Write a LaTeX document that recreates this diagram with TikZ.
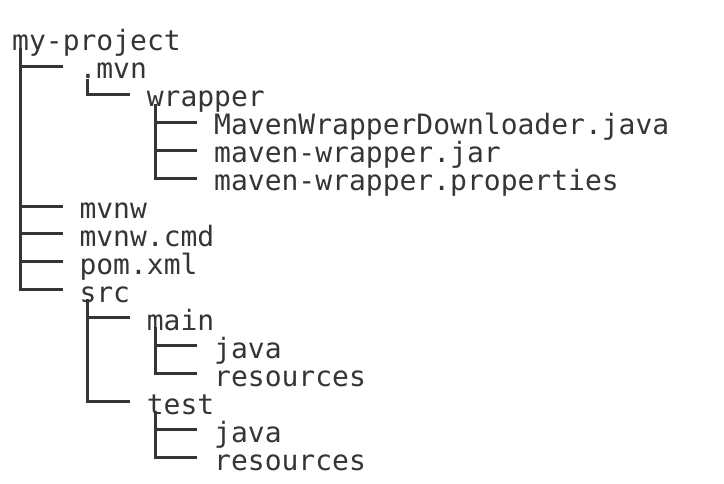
\documentclass[tikz,border=0pt]{standalone}
\usepackage{fontspec}
\usepackage{xcolor}
\usepackage{tikz}
\newfontfamily\monotree{DejaVu Sans Mono}
\definecolor{treegray}{HTML}{353535}
\tikzset{
  entry/.style={anchor=base west, inner xsep=0pt, inner ysep=0pt, text height=25pt, text depth=0pt, font=\monotree\fontsize{28}{28}\selectfont, text=treegray},
  treeedge/.style={draw=treegray, line width=3pt, shorten >=16.8pt}
}

\begin{document}
\begin{tikzpicture}[x=1pt,y=1pt]
\useasboundingbox (0,0) rectangle (724,-484);
% tree entries
\node[entry] (root) at (12,-51) {my-project};
\node[entry] (mvn) at (79.3,-78.9) {.mvn};
\node[entry] (wrapper) at (146.6,-106.9) {wrapper};
\node[entry] (downloader) at (214,-134.8) {MavenWrapperDownloader.java};
\node[entry] (jar) at (214,-162.7) {maven-wrapper.jar};
\node[entry] (props) at (214,-190.7) {maven-wrapper.properties};
\node[entry] (mvnw) at (79.3,-218.6) {mvnw};
\node[entry] (mvnwcmd) at (79.3,-246.5) {mvnw.cmd};
\node[entry] (pom) at (79.3,-274.4) {pom.xml};
\node[entry] (src) at (79.3,-302.4) {src};
\node[entry] (main) at (146.6,-330.3) {main};
\node[entry] (mainjava) at (214,-358.2) {java};
\node[entry] (mainres) at (214,-386.2) {resources};
\node[entry] (test) at (146.6,-414.1) {test};
\node[entry] (testjava) at (214,-442) {java};
\node[entry] (testres) at (214,-470) {resources};
% branches
\draw[treeedge] ([xshift=8.4pt,yshift=3pt]root.base west) |- (mvn.west);
\draw[treeedge] ([xshift=8.4pt,yshift=3pt]root.base west) |- (mvnw.west);
\draw[treeedge] ([xshift=8.4pt,yshift=3pt]root.base west) |- (mvnwcmd.west);
\draw[treeedge] ([xshift=8.4pt,yshift=3pt]root.base west) |- (pom.west);
\draw[treeedge] ([xshift=8.4pt,yshift=3pt]root.base west) |- (src.west);
\draw[treeedge] ([xshift=8.4pt,yshift=0pt]mvn.base west) |- (wrapper.west);
\draw[treeedge] ([xshift=8.4pt,yshift=3pt]wrapper.base west) |- (downloader.west);
\draw[treeedge] ([xshift=8.4pt,yshift=3pt]wrapper.base west) |- (jar.west);
\draw[treeedge] ([xshift=8.4pt,yshift=3pt]wrapper.base west) |- (props.west);
\draw[treeedge] ([xshift=8.4pt,yshift=3pt]src.base west) |- (main.west);
\draw[treeedge] ([xshift=8.4pt,yshift=3pt]src.base west) |- (test.west);
\draw[treeedge] ([xshift=8.4pt,yshift=3pt]main.base west) |- (mainjava.west);
\draw[treeedge] ([xshift=8.4pt,yshift=3pt]main.base west) |- (mainres.west);
\draw[treeedge] ([xshift=8.4pt,yshift=3pt]test.base west) |- (testjava.west);
\draw[treeedge] ([xshift=8.4pt,yshift=3pt]test.base west) |- (testres.west);
\end{tikzpicture}
\end{document}
